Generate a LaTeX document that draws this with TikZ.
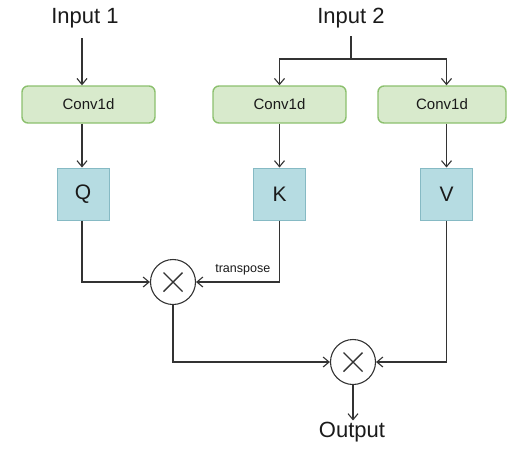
\documentclass[tikz,border=0pt]{standalone}
\usepackage{fontspec}
\setmainfont{Liberation Sans}
\usetikzlibrary{arrows.meta}
\definecolor{convfill}{HTML}{D8EACC}
\definecolor{convdraw}{HTML}{8CC06E}
\definecolor{qkvfill}{HTML}{B6DCE2}
\definecolor{qkvdraw}{HTML}{86BAC4}
\definecolor{ink}{HTML}{333333}
\definecolor{txt}{HTML}{1A1A1A}
\tikzset{
  every path/.style={line width=1.1pt},
  link/.style={draw=ink, -{Straight Barb[length=6pt,width=10pt]}},
  plain/.style={draw=ink},
  convbox/.style={draw=convdraw, fill=convfill, rounded corners=6pt, line width=1.4pt,
    minimum width=133pt, minimum height=37pt, inner sep=0pt,
    font=\fontsize{15}{18}\selectfont, text=txt},
  qkv/.style={draw=qkvdraw, fill=qkvfill, line width=1pt,
    minimum width=52pt, minimum height=52pt, inner sep=0pt,
    font=\fontsize{21}{24}\selectfont, text=txt},
  mult/.style={draw=ink, circle, minimum size=45pt, inner sep=0pt, line width=1.1pt,
    path picture={\draw[ink, line width=1.4pt]
      (path picture bounding box.south west) ++(13pt,13pt) -- ++(19pt,19pt)
      (path picture bounding box.north west) ++(13pt,-13pt) -- ++(19pt,-19pt);}},
  label text/.style={font=\fontsize{22}{26}\selectfont, text=txt, inner sep=1pt},
}
\begin{document}
\begin{tikzpicture}[x=1pt, y=-1pt]
  \useasboundingbox (0,0) rectangle (508,448);

  % inputs
  \node[label text] (in1) at (85,18) {Input 1};
  \node[label text] (in2) at (351,18) {Input 2};

  % convolution stages
  \node[convbox] (conv1) at (88.5,104.5) {Conv1d};
  \node[convbox] (conv2) at (279.5,104.5) {Conv1d};
  \node[convbox, minimum width=128pt] (conv3) at (442,104.5) {Conv1d};

  % query, key, value
  \node[qkv] (q) at (83,194) {Q};
  \node[qkv] (k) at (279.5,194) {K};
  \node[qkv] (v) at (446.5,194) {V};

  % products
  \node[mult] (m1) at (173,282) {};
  \node[mult] (m2) at (353,362) {};

  % output
  \node[label text] (out) at (352,432) {Output};

  % start points under the input labels
  \coordinate (src1) at (82,38);
  \coordinate (src2) at (351,36);

  % split of the second input
  \coordinate (split) at (351,59);
  \draw[plain] (src2) -- (split);
  \draw[link] (split) -| (conv2.north -| k.north);
  \draw[link] (split) -| (conv3.north -| v.north);

  % input 1 to its convolution
  \draw[link] (src1) -- (conv1.north -| src1);

  % convolutions to Q, K, V
  \draw[link] (conv1.south -| src1) -- (q.north -| src1);
  \draw[link] (conv2.south -| k.north) -- (k.north);
  \draw[link] (conv3.south -| v.north) -- (v.north);

  % Q and K^T into the first product
  \draw[link] (q.south -| src1) |- (m1.west);
  \draw[link] (k.south) |- (m1.east)
    node[pos=0.72, above, font=\fontsize{12.5}{14}\selectfont, text=txt, yshift=3pt] {transpose};

  % first product and V into the second product
  \draw[link] (m1.south) |- (m2.west);
  \draw[link] (v.south) |- (m2.east);

  % result
  \draw[link] (m2.south) -- (out.north -| m2.south);
\end{tikzpicture}
\end{document}
